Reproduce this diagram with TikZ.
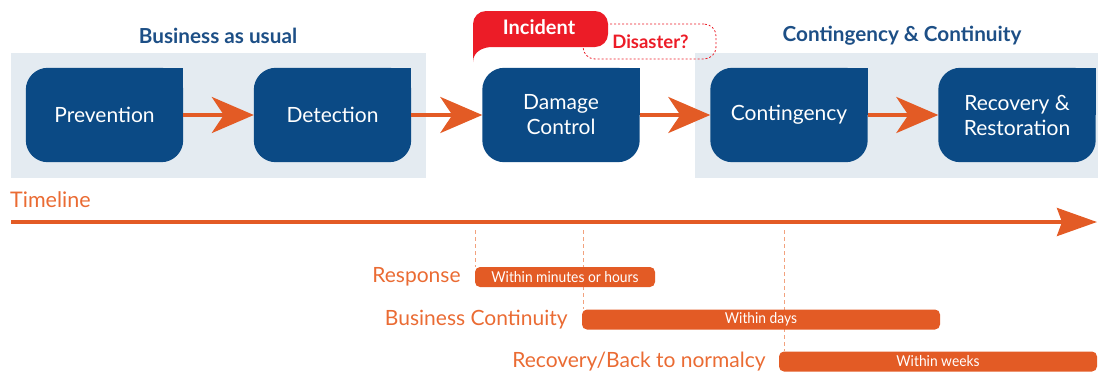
\documentclass[tikz,border=0pt]{standalone}
\usepackage{fontspec}
\setmainfont{Lato}
\newfontfamily\narrowfont[FakeStretch=0.92]{Lato}
\usetikzlibrary{arrows.meta}
\definecolor{boxblue}{HTML}{0B4A85}
\definecolor{titleblue}{HTML}{1D4F86}
\definecolor{panelgray}{HTML}{E4EBF1}
\definecolor{arrorange}{HTML}{E35B25}
\definecolor{lblorange}{HTML}{EA6B33}
\definecolor{dashorange}{HTML}{F2A27E}
\definecolor{incred}{HTML}{EC1C27}
\pgfdeclarelayer{bg}
\pgfdeclarelayer{boxbg}
\pgfsetlayers{bg,boxbg,main}
\tikzset{
  phase/.style={rectangle, minimum width=157pt, minimum height=94pt, inner sep=0pt,
    text=white, font=\fontsize{21}{25}\selectfont, align=center},
  flow/.style={draw=arrorange, line width=4pt, -{Stealth[length=42pt, width=36pt, inset=12pt]}},
  title/.style={text=titleblue, font=\bfseries\fontsize{20.7}{24}\selectfont},
  bar/.style={fill=arrorange, rounded corners=5pt, minimum height=20pt, inner sep=0pt,
    text=white, font=\narrowfont\fontsize{15}{16}\selectfont},
  lbl/.style={text=lblorange, font=\fontsize{21}{24}\selectfont, anchor=east, inner sep=0pt},
  dashline/.style={draw=dashorange, line width=0.9pt, dash pattern=on 4pt off 3pt},
}
\begin{document}
\begin{tikzpicture}[x=1pt,y=-1pt]
\useasboundingbox (0,0) rectangle (1098,373);
% panels
\begin{pgfonlayer}{bg}
\fill[panelgray] (11,53) rectangle (426,178);
\fill[panelgray] (695,53) rectangle (1098,178);
\end{pgfonlayer}
% titles
\node[title] (t1) at (218,36) {Business as usual};
\node[title] (t2) at (902,36) {Contingency \& Continuity};
% phase boxes
\node[phase] (prev) at (104.5,115) {Prevention};
\node[phase] (det) at (332.5,115) {Detection};
\node[phase] (dam) at (561,115) {Damage\\Control};
\node[phase] (cont) at (789,115) {Contingency};
\node[phase] (rec) at (1017,115) {Recovery \&\\Restoration};
\begin{pgfonlayer}{boxbg}
\foreach \n in {prev,det,dam,cont,rec}{
  \fill[boxblue, rounded corners=22pt] (\n.south west) rectangle (\n.north east);
  \fill[boxblue] (\n.center) rectangle (\n.north east);
}
\end{pgfonlayer}
\draw[flow] (prev.east) -- (det.west);
\draw[flow] (det.east) -- (dam.west);
\draw[flow] (dam.east) -- (cont.west);
\draw[flow] (cont.east) -- (rec.west);
% incident / disaster
\node[draw=incred, line width=0.8pt, dash pattern=on 2pt off 2pt, rounded corners=12pt,
  minimum width=133pt, minimum height=35pt, inner sep=0pt, text=incred,
  font=\bfseries\fontsize{18.5}{20}\selectfont] (dis) at (649.5,41.5) {\hspace*{2pt}Disaster?};
\fill[incred, rounded corners=13pt] (473,62) -- (473,11) -- (608,11) -- (608,47) -- (505,47)
  [sharp corners] .. controls (484,47) and (473,51) .. (473,62) -- cycle;
\node[text=white, font=\bfseries\fontsize{20}{22}\selectfont] (inc) at (539,27) {Incident};
% timeline
\node[text=lblorange, font=\fontsize{21.5}{24}\selectfont, anchor=west, inner sep=0pt] (tl) at (10,200) {Timeline};
\coordinate (tl0) at (11,222);
\coordinate (tl1) at (1097,222);
\draw[draw=arrorange, line width=3.5pt, -{Stealth[length=40pt, width=28pt, inset=5pt]}] (tl0) -- (tl1);
% bars
\coordinate (d1) at (475,230);
\coordinate (d2) at (583,230);
\coordinate (d3) at (784,230);
\node[bar, minimum width=180pt] (rb) at (565,277) {Within minutes or hours};
\node[bar, minimum width=358pt] (bb) at (761,319.5) {Within days};
\node[bar, minimum width=318pt] (rcb) at (938,361.5) {Within weeks};
\begin{pgfonlayer}{boxbg}
\draw[dashline] (d1) -- (d1 |- rb.north);
\draw[dashline] (d2) -- (d2 |- bb.north);
\draw[dashline] (d3) -- (d3 |- rcb.north);
\end{pgfonlayer}
\node[lbl] (l1) at ([xshift=-14pt]rb.west) {Response};
\node[lbl] (l2) at ([xshift=-14pt]bb.west) {Business Continuity};
\node[lbl] (l3) at ([xshift=-13pt]rcb.west) {Recovery/Back to normalcy};
\end{tikzpicture}
\end{document}
